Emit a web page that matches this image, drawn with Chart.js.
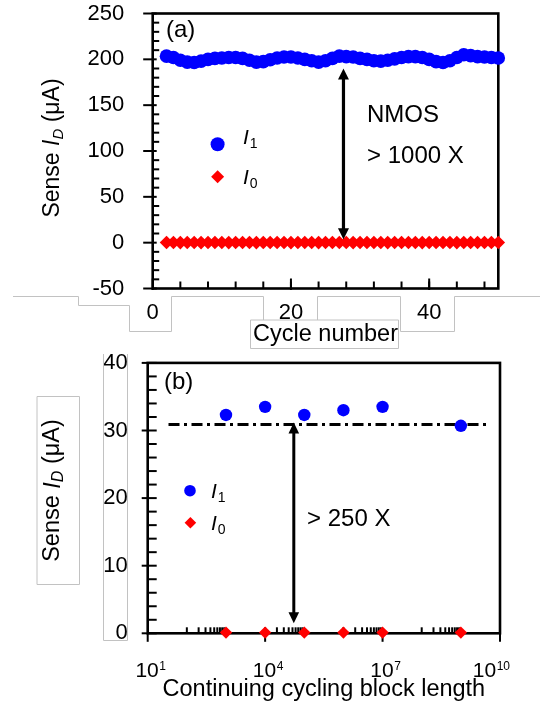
<!DOCTYPE html>
<html><head><meta charset="utf-8">
<script src="https://cdn.jsdelivr.net/npm/chart.js@4.4.1/dist/chart.umd.min.js"></script>
<style>
html,body{margin:0;padding:0;background:#fff;}
#wrap{position:relative;width:540px;height:706px;overflow:hidden;background:#fff;}
canvas{position:absolute;left:0;}
#ca{top:0;} #cb{top:350px;}
svg{position:absolute;left:0;top:0;pointer-events:none;}
</style></head><body>
<div id="wrap">
<canvas id="ca" width="540" height="350"></canvas>
<canvas id="cb" width="540" height="356"></canvas>
<svg width="540" height="706" fill="none" stroke="#c2c2c2" stroke-width="1">
  <path d="M13,296.5 H78.5 V305.5 H129.5 V331.5 H171.5 V296.5 H263.5 V320"/>
  <path d="M250.5,320 H398.5 V348.5 H250.5 Z"/>
  <path d="M317.5,320 V296.5 H400.5 V331.5 H454.5 V296.5 H540"/>
  <path d="M103.5,354 V640.5 H127.5 V354"/>
  <path d="M37,396.5 H79.5 V584.5 H37 Z"/>
</svg>
</div>
<script>
// ---------- data: panel (a) ----------
const cycles = [2,3,4,5,6,7,8,9,10,11,12,13,14,15,16,17,18,19,20,21,22,23,24,25,26,27,28,29,30,31,32,33,34,35,36,37,38,39,40,41,42,43,44,45,46,47,48,49,50];
const senseI1 = [203.5,202,199,197,196.5,198,200,201,201.5,202,202,201,199,197,197.5,199.5,201.5,202.5,202.5,201.5,200,198.5,197,198.5,201,203.5,203,202.5,201,200,198.5,198,199,200.5,202,203,203,202,200,197.5,196.5,198.5,202,205,204,203,202.5,202,201.5];
const senseI0 = [0.2,0.2,0.1,0.2,0.2,0.1,0.2,0.2,0.2,0.1,0.2,0.2,0.2,0.1,0.2,0.2,0.2,0.2,0.1,0.2,0.2,0.2,0.1,0.2,0.2,0.2,0.2,0.1,0.2,0.2,0.2,0.2,0.1,0.2,0.2,0.2,0.2,0.1,0.2,0.2,0.2,0.2,0.1,0.2,0.2,0.2,0.2,0.2,0.2];
const yTicksA = [-50,0,50,100,150,200,250];
const xTicksA = [0,20,40];
const arrowA = {x: 27.6, yTop: 190, yBottom: 3.7};

// ---------- data: panel (b) ----------
const blockLength = [1e3,1e4,1e5,1e6,1e7,1e9];
const senseI1b = [32.3,33.5,32.3,33.0,33.5,30.7];
const senseI0b = [0.1,0.1,0.1,0.1,0.1,0.1];
const refLineX = [34, 5e9];
const refLineY = [30.9, 30.9];
const yTicksB = [0,10,20,30,40];
const xTicksB = [1e1,1e4,1e7,1e10];
const xTickExpB = ['1','4','7','10'];
const arrowB = {x: 5.4e4, yTop: 31.2, yBottom: 1.5};

const FONT = '"Liberation Sans", Arial, Helvetica, sans-serif';
const BLUE = '#0000FF', RED = '#FF0000';

function line(ctx,x1,y1,x2,y2){ctx.beginPath();ctx.moveTo(x1,y1);ctx.lineTo(x2,y2);ctx.stroke();}

function drawYTitle(ctx, cx, cy, size){
  ctx.save();
  ctx.translate(cx, cy); ctx.rotate(-Math.PI/2);
  ctx.fillStyle='#000'; ctx.textBaseline='middle'; ctx.textAlign='left';
  const sub=Math.round(size*0.66);
  const parts=[{t:'Sense ',f:size+'px '+FONT,dy:0},{t:'I',f:'italic '+size+'px '+FONT,dy:0},{t:'D',f:'italic '+sub+'px '+FONT,dy:5.5},{t:' (μA)',f:size+'px '+FONT,dy:0}];
  let total=0; parts.forEach(p=>{ctx.font=p.f;p.w=ctx.measureText(p.t).width;total+=p.w;});
  let x=-total/2;
  parts.forEach(p=>{ctx.font=p.f;ctx.fillText(p.t,x,p.dy);x+=p.w;});
  ctx.restore();
}
function legendItem(ctx, shape, mx, my, r, tx, ty, sub, size){
  ctx.save();
  ctx.fillStyle = shape==='circle'?BLUE:RED;
  ctx.beginPath();
  if(shape==='circle'){ctx.arc(mx,my,r,0,2*Math.PI);}
  else {ctx.moveTo(mx-r,my);ctx.lineTo(mx,my-r);ctx.lineTo(mx+r,my);ctx.lineTo(mx,my+r);ctx.closePath();}
  ctx.fill();
  ctx.fillStyle='#000'; ctx.textBaseline='middle'; ctx.textAlign='left';
  ctx.font='italic '+size+'px '+FONT; ctx.fillText('I',tx,ty);
  const w=ctx.measureText('I').width;
  ctx.font=Math.round(size*0.68)+'px '+FONT; ctx.fillText(sub,tx+w+1,ty+6);
  ctx.restore();
}
function vArrow(ctx,x,yTop,yBot,head,hw,lw){
  ctx.save(); ctx.strokeStyle='#000'; ctx.fillStyle='#000'; ctx.lineWidth=lw;
  line(ctx,x,yTop+head-1,x,yBot-head+1);
  ctx.beginPath();ctx.moveTo(x,yTop);ctx.lineTo(x-hw,yTop+head);ctx.lineTo(x+hw,yTop+head);ctx.closePath();ctx.fill();
  ctx.beginPath();ctx.moveTo(x,yBot);ctx.lineTo(x-hw,yBot-head);ctx.lineTo(x+hw,yBot-head);ctx.closePath();ctx.fill();
  ctx.restore();
}
function text(ctx,t,x,y,size){
  ctx.save();ctx.fillStyle='#000';ctx.font=size+'px '+FONT;ctx.textAlign='left';ctx.textBaseline='middle';ctx.fillText(t,x,y);ctx.restore();
}
function noPad(s){s.paddingTop=0;s.paddingBottom=0;s.paddingLeft=0;s.paddingRight=0;}

// ---------- panel (a) ----------
const plugA = {
  id:'plugA',
  beforeDatasetsDraw(chart){
    const ctx=chart.ctx, {left,right,top,bottom}=chart.chartArea;
    const xs=chart.scales.x, ys=chart.scales.y;
    ctx.save(); ctx.strokeStyle='#000';
    ctx.lineWidth=2;
    for(let v=-50; v<=250; v+=10){
      const p=ys.getPixelForValue(v);
      if(yTicksA.includes(v)) line(ctx,left-9.5,p,left+4,p); else line(ctx,left,p,left+6.5,p);
    }
    for(let v=4; v<50; v+=4){
      const p=xs.getPixelForValue(v);
      line(ctx,p,bottom,p,bottom-7);
    }
    xTicksA.forEach(v=>{const p=xs.getPixelForValue(v); line(ctx,p,bottom+1.5,p,bottom-10);});
    ctx.lineWidth=2.6;
    ctx.strokeRect(left,top,right-left,bottom-top);
    ctx.restore();
  },
  afterDatasetsDraw(chart){
    const ctx=chart.ctx, xs=chart.scales.x, ys=chart.scales.y;
    vArrow(ctx, xs.getPixelForValue(arrowA.x), ys.getPixelForValue(arrowA.yTop), ys.getPixelForValue(arrowA.yBottom), 11, 5.5, 3.2);
    text(ctx,'(a)',166,30,24);
    text(ctx,'NMOS',367,115,24);
    text(ctx,'> 1000 X',367,156,24);
    legendItem(ctx,'circle',217.6,144.3,7,243,138,'1',21);
    legendItem(ctx,'diamond',217.6,176.7,6.5,243,178,'0',21);
    drawYTitle(ctx,53,148,23);
  }
};

new Chart(document.getElementById('ca'), {
  type:'scatter',
  data:{datasets:[
    {label:'I0', data:cycles.map((c,i)=>({x:c,y:senseI0[i]})), pointStyle:'rectRot', pointRadius:6.8, backgroundColor:RED, borderWidth:0, showLine:false, clip:false, order:1},
    {label:'I1', data:cycles.map((c,i)=>({x:c,y:senseI1[i]})), pointStyle:'circle', pointRadius:6.8, backgroundColor:BLUE, borderWidth:0, showLine:false, clip:false, order:2}
  ]},
  options:{
    responsive:false, animation:false, devicePixelRatio:1,
    layout:{padding:{left:0,right:41.7,top:13.5,bottom:0}},
    plugins:{legend:{display:false},tooltip:{enabled:false}},
    scales:{
      x:{type:'linear',min:0,max:50,
        afterBuildTicks:s=>{s.ticks=xTicksA.map(v=>({value:v}));},
        afterFit:s=>{s.height=61.5;noPad(s);},
        grid:{display:false,drawTicks:false,tickLength:0}, border:{display:false},
        ticks:{autoSkip:false,maxRotation:0,padding:11.3,color:'#000',font:{family:FONT,size:22}},
        title:{display:true,text:'Cycle number',color:'#000',font:{family:FONT,size:23.5},padding:{top:0,bottom:0.9}}},
      y:{type:'linear',min:-50,max:250,
        afterBuildTicks:s=>{s.ticks=yTicksA.map(v=>({value:v}));},
        afterFit:s=>{s.width=152.7;noPad(s);},
        grid:{display:false,drawTicks:false,tickLength:0}, border:{display:false},
        ticks:{autoSkip:false,padding:28.4,color:'#000',font:{family:FONT,size:22}}}
    }
  },
  plugins:[plugA]
});

// ---------- panel (b) ----------
const plugB = {
  id:'plugB',
  beforeDatasetsDraw(chart){
    const ctx=chart.ctx, {left,right,top,bottom}=chart.chartArea;
    const xs=chart.scales.x, ys=chart.scales.y;
    ctx.save(); ctx.strokeStyle='#000'; ctx.lineWidth=2;
    for(let v=0; v<=40; v+=2){
      const p=ys.getPixelForValue(v);
      if(yTicksB.includes(v)) line(ctx,left-6,p,left+9,p); else line(ctx,left,p,left+9,p);
    }
    [2,4,6,8].forEach(d=>{
      for(let k=1;k<=9;k++){
        const p=xs.getPixelForValue(k*Math.pow(10,d));
        line(ctx,p,bottom,p,bottom-6);
      }
    });
    xTicksB.forEach(v=>{const p=xs.getPixelForValue(v); line(ctx,p,bottom,p,bottom+8.5);});
    ctx.lineWidth=2.6;
    ctx.strokeRect(left,top,right-left,bottom-top);
    // x tick labels with superscript exponents
    ctx.fillStyle='#000'; ctx.textAlign='left'; ctx.textBaseline='alphabetic';
    xTicksB.forEach((v,i)=>{
      const p=xs.getPixelForValue(v);
      ctx.font='21px '+FONT; const w1=ctx.measureText('10').width;
      ctx.font='12px '+FONT; const w2=ctx.measureText(xTickExpB[i]).width;
      const w=w1+w2+0.5;
      const x0=Math.min(p-w/2+3, chart.width-30-w);
      ctx.font='21px '+FONT; ctx.fillText('10',x0,bottom+43.4);
      ctx.font='12px '+FONT; ctx.fillText(xTickExpB[i],x0+w1+0.5,bottom+36.7);
    });
    ctx.restore();
  },
  afterDatasetsDraw(chart){
    const ctx=chart.ctx, xs=chart.scales.x, ys=chart.scales.y;
    vArrow(ctx, xs.getPixelForValue(arrowB.x), ys.getPixelForValue(arrowB.yTop), ys.getPixelForValue(arrowB.yBottom), 11, 5.3, 3);
    text(ctx,'(b)',164,32,24);
    text(ctx,'> 250 X',307,169,24);
    legendItem(ctx,'circle',190,140.7,5.8,211,142.5,'1',21);
    legendItem(ctx,'diamond',190.4,172.7,5.8,211,174,'0',21);
    drawYTitle(ctx,53,140.5,23.5);
  }
};

new Chart(document.getElementById('cb'), {
  type:'scatter',
  data:{datasets:[
    {label:'I0', data:blockLength.map((c,i)=>({x:c,y:senseI0b[i]})), pointStyle:'rectRot', pointRadius:6.2, backgroundColor:RED, borderWidth:0, showLine:false, clip:false, order:1},
    {label:'I1', data:blockLength.map((c,i)=>({x:c,y:senseI1b[i]})), pointStyle:'circle', pointRadius:6.2, backgroundColor:BLUE, borderWidth:0, showLine:false, clip:false, order:2},
    {label:'ref', type:'line', data:refLineX.map((c,i)=>({x:c,y:refLineY[i]})), borderColor:'#000', borderWidth:3, borderDash:[11,4.5,3,4.5], pointRadius:0, fill:false, clip:false, order:3}
  ]},
  options:{
    responsive:false, animation:false, devicePixelRatio:1,
    layout:{padding:{left:0,right:40,top:12.9,bottom:0}},
    plugins:{legend:{display:false},tooltip:{enabled:false}},
    scales:{
      x:{type:'logarithmic',min:1e1,max:1e10,
        afterBuildTicks:s=>{s.ticks=xTicksB.map(v=>({value:v}));},
        afterFit:s=>{s.height=72.7;noPad(s);},
        grid:{display:false,drawTicks:false,tickLength:0}, border:{display:false},
        ticks:{display:false},
        title:{display:true,text:'Continuing cycling block length',color:'#000',font:{family:FONT,size:23.5},padding:{top:0,bottom:1.9}}},
      y:{type:'linear',min:0,max:40,
        afterBuildTicks:s=>{s.ticks=yTicksB.map(v=>({value:v}));},
        afterFit:s=>{s.width=147.7;noPad(s);},
        grid:{display:false,drawTicks:false,tickLength:0}, border:{display:false},
        ticks:{autoSkip:false,padding:20,color:'#000',font:{family:FONT,size:22}}}
    }
  },
  plugins:[plugB]
});
</script>
</body></html>
